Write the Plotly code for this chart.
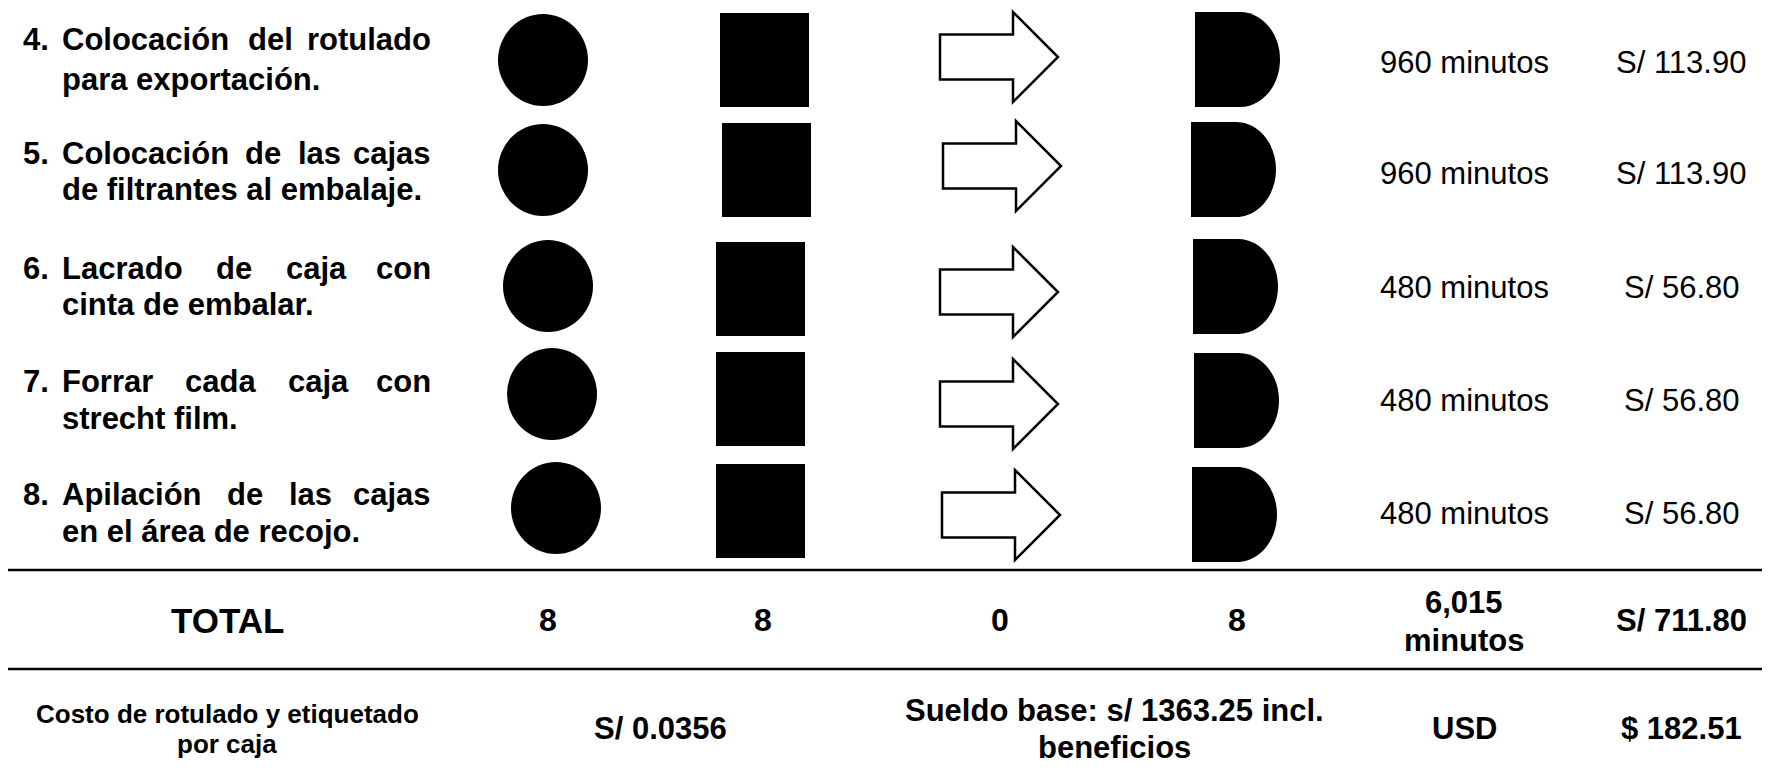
import plotly.graph_objects as go

# ---- data ----
step_numbers = ["4.", "5.", "6.", "7.", "8."]
step_first_lines = [
    "Colocación del rotulado",
    "Colocación de las cajas",
    "Lacrado de caja con",
    "Forrar cada caja con",
    "Apilación de las cajas",
]
step_second_lines = [
    "para exportación.",
    "de filtrantes al embalaje.",
    "cinta de embalar.",
    "strecht film.",
    "en el área de recojo.",
]
step_minutes = [960, 960, 480, 480, 480]
step_costs = [113.90, 113.90, 56.80, 56.80, 56.80]

total_label = "TOTAL"
total_counts = [8, 8, 0, 8]  # operación, inspección, transporte, demora
total_minutes = 6015
total_cost = 711.80

unit_cost_lines = ["Costo de rotulado y etiquetado", "por caja"]
unit_cost = 0.0356
salary_lines = ["Sueldo base: s/ 1363.25 incl.", "beneficios"]
currency = "USD"
total_usd = 182.51

# ---- layout (pixel grid of the page, y grows downward) ----
# the html body has an 8px margin, so the figure is drawn inside it
PAGE_W, PAGE_H, BODY_M = 1770, 777, 8
FIG_W, FIG_H = PAGE_W - 2 * BODY_M, PAGE_H - 2 * BODY_M
FONT = "Liberation Sans, Arial, sans-serif"

label_num_x = 21
label_left, label_right = 60, 433
label_y1 = [39, 153, 268, 381, 494]
label_y2 = [79, 189, 304, 418, 531]
row_text_y = [62, 173, 287, 400, 513]
minutes_x, cost_x = 1464, 1681

circle_cx = [543, 543, 548, 552, 556]
circle_cy = [60, 170, 286, 394, 508]
circle_r = (45, 46)

square_x0 = [720, 722, 716, 716, 716]
square_y0 = [13, 123, 242, 352, 464]
square_size = (89, 94)

arrow_x0 = [940, 943, 940, 940, 942]
arrow_yc = [57, 166, 292, 404, 515]

d_x0 = [1195, 1191, 1193, 1194, 1192]
d_y0 = [12, 122, 239, 353, 467]
d_size = (85, 95)

rule_y = [570, 669]
total_y = 620
total_cols_x = [548, 763, 1000, 1237]
bottom_y = 728

# Arial Bold advance widths (em), used to spread justified words
BOLD_W = dict(zip("abcdefghijklmnopqrstuvwxyz",
                  [.556, .611, .556, .611, .556, .333, .611, .611, .278, .278, .556, .278, .889,
                   .611, .611, .611, .611, .389, .556, .333, .611, .556, .778, .556, .556, .5]))
BOLD_W.update({"á": .556, "é": .556, "í": .278, "ó": .611, "C": .722, "L": .611,
               "F": .611, "A": .722, ".": .278})

fig = go.Figure()
fig.add_trace(go.Scatter(x=[BODY_M, PAGE_W], y=[BODY_M, PAGE_H], mode="markers",
                         marker=dict(opacity=0), hoverinfo="skip", showlegend=False))


def add_text(x, y, text, size, bold=False, anchor="center"):
    fig.add_annotation(
        x=x, y=y, xref="x", yref="y", showarrow=False,
        text=f"<b>{text}</b>" if bold else text,
        xanchor=anchor, yanchor="middle",
        font=dict(family=FONT, size=size, color="black"),
    )


def add_justified(line, y, size):
    words = line.split()
    widths = [sum(BOLD_W.get(ch, .556) for ch in w) * size for w in words]
    gap = (label_right - label_left - sum(widths)) / (len(words) - 1)
    x = label_left
    for i, w in enumerate(words):
        if i == len(words) - 1:
            add_text(label_right, y, w, size, bold=True, anchor="right")
        else:
            add_text(x, y, w, size, bold=True, anchor="left")
        x += widths[i] + gap


LBL = 31
for i in range(len(step_numbers)):
    add_text(label_num_x, label_y1[i], step_numbers[i], LBL, bold=True, anchor="left")
    add_justified(step_first_lines[i], label_y1[i], LBL)
    add_text(label_left, label_y2[i], step_second_lines[i], LBL, bold=True, anchor="left")
    add_text(minutes_x, row_text_y[i], f"{step_minutes[i]} minutos", 31)
    add_text(cost_x, row_text_y[i], f"S/ {step_costs[i]:.2f}", 31)

    # operación
    fig.add_shape(type="circle", xref="x", yref="y",
                  x0=circle_cx[i] - circle_r[0], x1=circle_cx[i] + circle_r[0],
                  y0=circle_cy[i] - circle_r[1], y1=circle_cy[i] + circle_r[1],
                  fillcolor="black", line=dict(width=0))
    # inspección
    fig.add_shape(type="rect", xref="x", yref="y",
                  x0=square_x0[i], x1=square_x0[i] + square_size[0],
                  y0=square_y0[i], y1=square_y0[i] + square_size[1],
                  fillcolor="black", line=dict(width=0))
    # transporte
    ax, ay = arrow_x0[i], arrow_yc[i]
    arrow = (f"M{ax},{ay - 22.5} L{ax + 73},{ay - 22.5} L{ax + 73},{ay - 45} "
             f"L{ax + 118},{ay} L{ax + 73},{ay + 45} L{ax + 73},{ay + 22.5} "
             f"L{ax},{ay + 22.5} Z")
    fig.add_shape(type="path", xref="x", yref="y", path=arrow,
                  fillcolor="white", line=dict(color="black", width=2.5))
    # demora
    dx, dy = d_x0[i], d_y0[i]
    dw, dh = d_size
    rx, ry = 40, dh / 2
    xs, yc, k = dx + dw - rx, dy + dh / 2, 0.5523
    dpath = (f"M{dx},{dy} L{xs},{dy} "
             f"C{xs + k * rx},{dy} {xs + rx},{yc - k * ry} {xs + rx},{yc} "
             f"C{xs + rx},{yc + k * ry} {xs + k * rx},{dy + dh} {xs},{dy + dh} "
             f"L{dx},{dy + dh} Z")
    fig.add_shape(type="path", xref="x", yref="y", path=dpath,
                  fillcolor="black", line=dict(width=0))

for y in rule_y:
    fig.add_shape(type="line", xref="x", yref="y", x0=BODY_M, x1=PAGE_W, y0=y, y1=y,
                  line=dict(color="black", width=2.5))

# total row
add_text(227, total_y, total_label, 35, bold=True)
for x, c in zip(total_cols_x, total_counts):
    add_text(x, total_y, str(c), 32, bold=True)
add_text(minutes_x, 602, f"{total_minutes:,}", 31, bold=True)
add_text(minutes_x, 640, "minutos", 31, bold=True)
add_text(cost_x, total_y, f"S/ {total_cost:.2f}", 31, bold=True)

# bottom row
add_text(227, 714, unit_cost_lines[0], 26, bold=True)
add_text(227, 744, unit_cost_lines[1], 26, bold=True)
add_text(660, bottom_y, f"S/ {unit_cost}", 31, bold=True)
add_text(1114, 710, salary_lines[0], 31, bold=True)
add_text(1114, 747, salary_lines[1], 31, bold=True)
add_text(minutes_x, bottom_y, currency, 31, bold=True)
add_text(cost_x, bottom_y, f"$ {total_usd:.2f}", 31, bold=True)

fig.update_layout(
    width=FIG_W, height=FIG_H,
    margin=dict(l=0, r=0, t=0, b=0),
    plot_bgcolor="white", paper_bgcolor="white",
    xaxis=dict(range=[BODY_M, BODY_M + FIG_W], visible=False, fixedrange=True),
    yaxis=dict(range=[BODY_M + FIG_H, BODY_M], visible=False, fixedrange=True),
    showlegend=False,
)

fig.write_html("out.html")
